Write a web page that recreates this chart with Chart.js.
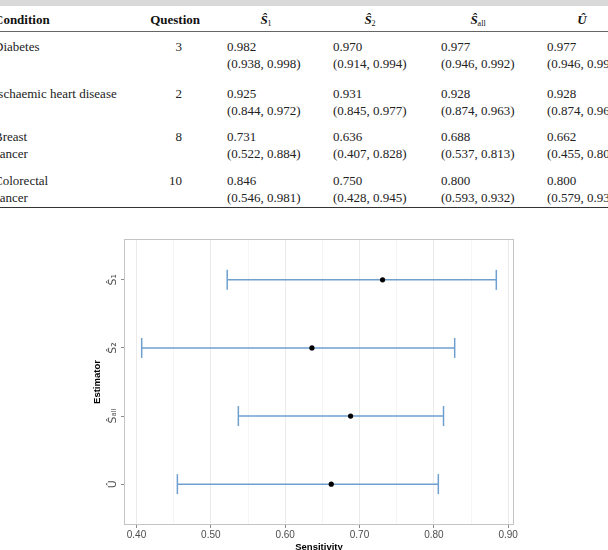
<!DOCTYPE html>
<html>
<head>
<meta charset="utf-8">
<script src="https://cdn.jsdelivr.net/npm/chart.js@4"></script>
<style>
html, body { margin: 0; padding: 0; width: 608px; height: 550px; overflow: hidden; background: #fff; }
#table { position: absolute; left: 0; top: 0; width: 608px; height: 215px; overflow: hidden;
  font-family: "Liberation Serif", "DejaVu Serif", serif; font-size: 13px; color: #222; }
#table div { position: absolute; white-space: nowrap; line-height: 16px; height: 16px; }
#table .band { left: 0; top: 0; width: 608px; height: 6px; background: #d9d9d9; }
#table .rule { left: 0; width: 608px; }
#table .hd { font-weight: bold; color: #111; }
#table sub { font-size: 8px; vertical-align: -2px; font-weight: normal; }
#myChart { position: absolute; left: 0; top: 0; }
</style>
</head>
<body>
<div id="table"></div>
<canvas id="myChart" width="608" height="560"></canvas>
<script>
// table values
const conditions = [['Diabetes'], ['Ischaemic heart disease'], ['Breast', 'cancer'], ['Colorectal', 'cancer']];
const questions = [3, 2, 8, 10];
const tabS1 = [0.982, 0.925, 0.731, 0.846];
const tabS1Ci = [[0.938, 0.998], [0.844, 0.972], [0.522, 0.884], [0.546, 0.981]];
const tabS2 = [0.970, 0.931, 0.636, 0.750];
const tabS2Ci = [[0.914, 0.994], [0.845, 0.977], [0.407, 0.828], [0.428, 0.945]];
const tabSall = [0.977, 0.928, 0.688, 0.800];
const tabSallCi = [[0.946, 0.992], [0.874, 0.963], [0.537, 0.813], [0.593, 0.932]];
const tabU = [0.977, 0.928, 0.662, 0.800];
const tabUCi = [[0.946, 0.992], [0.874, 0.963], [0.455, 0.806], [0.579, 0.932]];

// chart values (breast cancer row)
const estimators = ['Ŝ₁', 'Ŝ₂', 'Ŝₐₗₗ', 'Û'];
const estimates = [0.731, 0.636, 0.688, 0.662];
const ciLower = [0.522, 0.407, 0.537, 0.455];
const ciUpper = [0.884, 0.828, 0.813, 0.806];
const xTicks = [0.40, 0.45, 0.50, 0.55, 0.60, 0.65, 0.70, 0.75, 0.80, 0.85, 0.90];

// ---- table ----
const table = document.getElementById('table');
function put(html, css, cls) {
    const d = document.createElement('div');
    d.innerHTML = html;
    if (cls) d.className = cls;
    Object.assign(d.style, css);
    table.append(d);
}
put('', {}, 'band');
put('', { top: '31px', height: '1px', background: '#666' }, 'rule');
put('', { top: '207px', height: '1.3px', background: '#333' }, 'rule');

const headY = 12;
put('Condition', { left: '-6px', top: headY + 'px' }, 'hd');
put('Question', { right: '408px', top: headY + 'px' }, 'hd');
const heads = ['<i>Ŝ</i><sub>1</sub>', '<i>Ŝ</i><sub>2</sub>', '<i>Ŝ</i><sub>all</sub>', '<i>Û</i>'];
const headCenters = [266, 370, 478, 582];
heads.forEach((h, j) => {
    put(h, { left: (headCenters[j] - 30) + 'px', width: '60px', textAlign: 'center', top: headY + 'px' }, 'hd');
});

const rowTops = [39, 86, 129, 173];
const colLefts = [227, 333, 441, 547];
const cols = [[tabS1, tabS1Ci], [tabS2, tabS2Ci], [tabSall, tabSallCi], [tabU, tabUCi]];
conditions.forEach((lines, i) => {
    const t = rowTops[i];
    lines.forEach((ln, k) => put(ln, { left: '-6px', top: (t + k * 16.5) + 'px' }));
    put(String(questions[i]), { right: '426px', top: t + 'px' });
    cols.forEach(([est, ci], j) => {
        put(est[i].toFixed(3), { left: colLefts[j] + 'px', top: t + 'px' });
        put(`(${ci[i][0].toFixed(3)}, ${ci[i][1].toFixed(3)})`, { left: colLefts[j] + 'px', top: (t + 16.5) + 'px' });
    });
});

// ---- chart ----
const ctx = document.getElementById('myChart');
const barColor = '#6e9fcf';
const isMajor = v => Math.abs(v * 10 - Math.round(v * 10)) < 1e-6;

const datasets = estimators.map((name, i) => ({
    label: name,
    data: [{ x: ciLower[i], y: i + 1 }, { x: ciUpper[i], y: i + 1 }],
    showLine: true,
    borderColor: barColor,
    borderWidth: 1.5,
    pointStyle: 'line',
    pointRotation: 90,
    pointRadius: 10,
    pointHoverRadius: 10,
    pointBorderColor: barColor,
    pointBorderWidth: 1.5,
    order: 1
}));
datasets.push({
    label: 'estimate',
    data: estimates.map((v, i) => ({ x: v, y: i + 1 })),
    pointRadius: 2.6,
    pointHoverRadius: 2.6,
    pointBackgroundColor: '#000',
    pointBorderColor: '#000',
    pointBorderWidth: 0,
    order: 0
});

const panelBorder = {
    id: 'panelBorder',
    beforeDatasetsDraw(chart) {
        const { ctx, chartArea: a } = chart;
        ctx.save();
        ctx.strokeStyle = '#c4c4c4';
        ctx.lineWidth = 1;
        ctx.strokeRect(a.left + 0.5, a.top + 0.5, a.width - 1, a.height - 1);
        ctx.restore();
    }
};

const tickFont = { family: 'Liberation Sans, DejaVu Sans, sans-serif', size: 10 };
const yTickFont = { family: 'DejaVu Sans, Liberation Sans, sans-serif', size: 11 };
const titleFont = { family: 'Liberation Sans, DejaVu Sans, sans-serif', size: 9.5, weight: 'bold' };

new Chart(ctx, {
    type: 'scatter',
    data: { datasets: datasets },
    options: {
        responsive: false,
        animation: false,
        events: [],
        layout: { padding: { top: 239, left: 0, right: 94, bottom: 0 } },
        plugins: { legend: { display: false }, tooltip: { enabled: false } },
        scales: {
            x: {
                type: 'linear',
                min: 0.3832,
                max: 0.9078,
                afterBuildTicks: s => { s.ticks = xTicks.map(v => ({ value: v })); },
                afterFit: s => { s.height = 35; },
                ticks: {
                    autoSkip: false,
                    maxRotation: 0,
                    padding: 1,
                    color: '#4d4d4d',
                    font: tickFont,
                    callback: v => isMajor(v) ? v.toFixed(2) : ''
                },
                grid: {
                    color: c => isMajor(c.tick.value) ? '#ebebeb' : '#f5f5f5',
                    tickColor: c => isMajor(c.tick.value) ? '#8a8a8a' : 'rgba(0,0,0,0)',
                    tickLength: 3,
                    lineWidth: 1
                },
                border: { display: false },
                title: { display: true, text: 'Sensitivity', color: '#000', font: titleFont, padding: { top: 0, bottom: 7 } }
            },
            y: {
                type: 'linear',
                min: 0.4,
                max: 4.6,
                reverse: true,
                afterBuildTicks: s => { s.ticks = estimators.map((n, i) => ({ value: i + 1 })); },
                afterFit: s => { s.width = 124; },
                ticks: {
                    autoSkip: false,
                    minRotation: 90,
                    maxRotation: 90,
                    crossAlign: 'center',
                    padding: 0,
                    color: '#4d4d4d',
                    font: yTickFont,
                    callback: v => estimators[Math.round(v) - 1]
                },
                grid: { drawOnChartArea: false, tickLength: 3, tickColor: '#8a8a8a' },
                border: { display: false },
                title: { display: true, text: 'Estimator', color: '#000', font: titleFont, padding: { top: 92, bottom: 0 } }
            }
        }
    },
    plugins: [panelBorder]
});
</script>
</body>
</html>
